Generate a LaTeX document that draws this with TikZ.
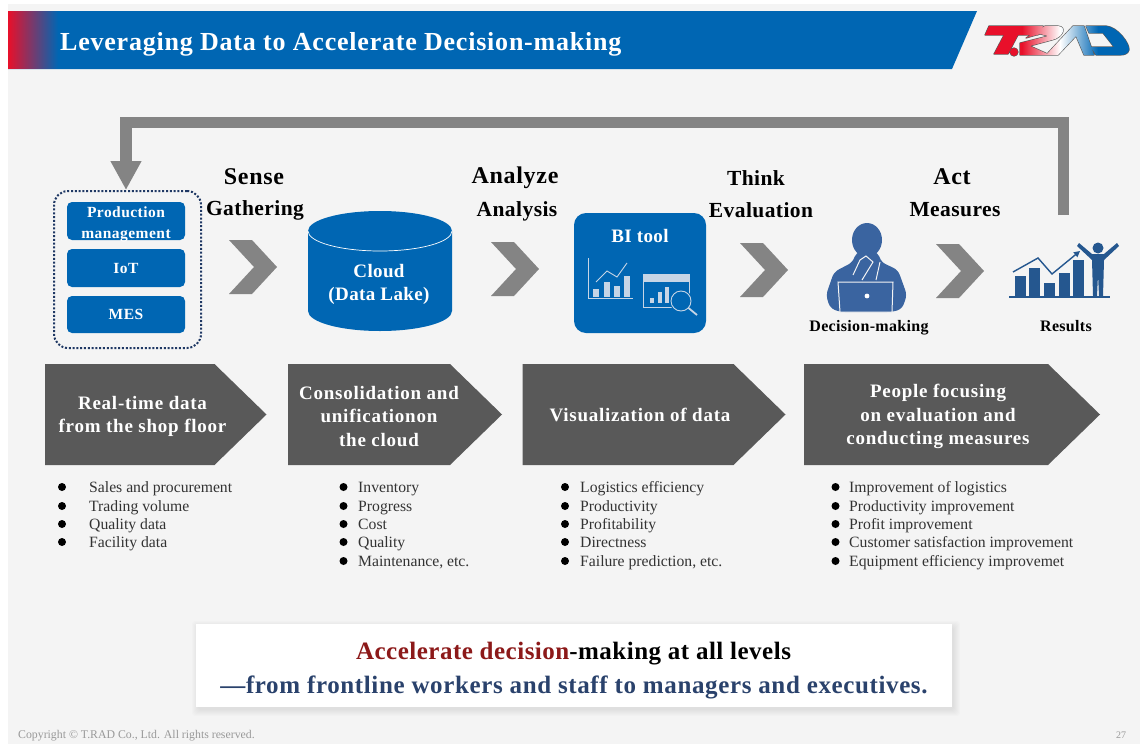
\documentclass[tikz,border=0pt]{standalone}
\usepackage{fontspec}
\setmainfont{Liberation Serif}
\usepackage{tikz}
\usetikzlibrary{arrows.meta}
\definecolor{tradblue}{HTML}{0066B3}
\definecolor{tradred}{HTML}{E8102A}
\definecolor{tradgrey}{HTML}{848484}
\definecolor{banner}{HTML}{595959}
\definecolor{person}{HTML}{3A64A0}
\definecolor{chart}{HTML}{25578F}
\definecolor{icon}{HTML}{C6D5E6}
\definecolor{navy}{HTML}{1F3864}
\definecolor{slide}{HTML}{F4F4F4}
\newcommand{\chevronshape}[2]{(#1,#2) -- ++(23,0) -- ++(25,27) -- ++(-25,27) -- ++(-23,0) -- ++(25,-27) -- cycle}
\newcommand{\spaced}[1]{\addfontfeature{LetterSpace=#1}}
\newcommand{\logopath}{(989,26) -- (1043,26) -- (1038,35) -- (1018,35) -- (1008,54) -- (994,54) -- (1004,35) -- (985,35) -- cycle
    (1014,52) circle[radius=4pt]
    (1026,38) -- (1045,26) -- (1058,26) .. controls (1068,27) and (1062,38) .. (1052,40) -- (1030,46) -- (1050,55) -- (1020,55) -- (1020,43) -- (1048,36) -- (1040,34) -- cycle
    (1046,55) -- (1073,26) -- (1084,26) -- (1094,55) -- (1084,55) -- (1076,36) -- (1058,55) -- cycle
    (1086,26) -- (1106,26) .. controls (1118,27) and (1130,44) .. (1129,50) .. controls (1128,54) and (1124,55) .. (1120,55) -- (1096,55) -- (1091,47) -- (1114,47) -- (1103,33) -- (1089,33) -- cycle}

\begin{document}
\begin{tikzpicture}[x=1pt, y=-1pt,
        bluebox/.style={fill=tradblue, rounded corners=5pt, text=white, align=center, inner sep=0pt,
            minimum width=118pt, font=\fontsize{15.5}{21}\selectfont\bfseries\spaced{3}},
        flow/.style={font=\fontsize{24}{26}\selectfont\bfseries\spaced{3}},
        flowsub/.style={font=\fontsize{21.5}{24}\selectfont\bfseries\spaced{2}},
        caption/.style={font=\fontsize{16}{18}\selectfont\bfseries\spaced{2}},
        bannertext/.style={text=white, align=center, font=\fontsize{19}{23.3}\selectfont\bfseries\spaced{4}},
        listtext/.style={anchor=base west, inner sep=0pt, text=black!80, font=\fontsize{15.7}{16}\selectfont},
        iconline/.style={draw=icon, line width=0.9pt},
        feedback/.style={draw=tradgrey, line width=11.4pt, -{Triangle[length=29pt,width=29pt]}}
    ]
    \useasboundingbox (0,0) rectangle (1140,744);
    \fill[white] (0,0) rectangle (1140,744);
    \fill[slide] (8,4) rectangle (1140,744);

    % title bar
    \fill[tradblue] (8,11) -- (977,11) -- (952,69) -- (8,69) -- cycle;
    \shade[left color=tradred, right color=tradblue] (8,11.4) rectangle (58,68.6);
    \node[anchor=west, inner sep=0pt, text=white, font=\fontsize{26}{28}\selectfont\bfseries\spaced{3}] (title) at (60,44)
        {Leveraging Data to Accelerate Decision-making};

    % logo
    \draw[black!65, line width=1.2pt, line join=round] \logopath;
    \begin{scope}
        \clip \logopath;
        \fill[tradred] (985,20) rectangle (1022,60);
        \shade[left color=tradred, right color=white] (1022,20) rectangle (1060,60);
        \shade[left color=white, right color=tradblue] (1060,20) rectangle (1098,60);
        \fill[tradblue] (1098,20) rectangle (1135,60);
    \end{scope}

    % data sources
    \node[draw=navy, line width=2pt, dash pattern=on 2pt off 1.8pt, rounded corners=14pt,
        minimum width=147pt, minimum height=157pt] (stack) at (127.5,269.5) {};
    \fill[tradblue, rounded corners=5pt] (67,202) rectangle (185,240);
    \node[text=white, align=center, inner sep=0pt, font=\fontsize{15.5}{21}\selectfont\bfseries\spaced{3}] (production) at (126,224) {Production\\management};
    \node[bluebox, minimum height=38pt] (iot) at (126,268) {IoT};
    \node[bluebox, minimum height=37pt] (mes) at (126,314.5) {MES};

    % feedback
    \coordinate (fbstart) at (1063.5,215);
    \coordinate (fbtop) at (600,122.5);
    \coordinate (fbend) at ([xshift=-1.5pt]stack.north);
    \draw[feedback] (fbstart) |- (fbtop) -| (fbend);

    % steps
    \node[flow] (sense) at (254,177) {Sense};
    \node[flowsub] (gathering) at (255,210) {Gathering};
    \node[flow] (analyze) at (515,178) {Analyze};
    \node[flowsub] (analysis) at (517,211) {Analysis};
    \node[flowsub] (think) at (756,178) {Think};
    \node[flowsub] (evaluation) at (761,210) {Evaluation};
    \node[flow] (act) at (952,177) {Act};
    \node[flowsub] (measures) at (955,210) {Measures};
    \foreach \x/\y in {229/240, 491/242, 740/243, 936/244}
        \fill[tradgrey] \chevronshape{\x}{\y};

    % cloud
    \fill[tradblue] (308,231) -- (308,311) arc[start angle=180, end angle=360, x radius=72pt, y radius=20pt]
        -- (452,231) arc[start angle=0, end angle=180, x radius=72pt, y radius=20pt] -- cycle;
    \draw[white, line width=0.7pt] (308,231) arc[start angle=180, end angle=360, x radius=72pt, y radius=20pt];
    \node[text=white, align=center, inner sep=0pt, font=\fontsize{19}{23}\selectfont\bfseries\spaced{2}] (cloud) at (379,284) {Cloud\\(Data Lake)};

    % BI tool
    \fill[tradblue, rounded corners=12pt] (574,213) rectangle (706,333);
    \node[text=white, font=\fontsize{19}{20}\selectfont\bfseries\spaced{2}] (bi) at (640,236) {BI tool};
    \draw[iconline] (588,258) -- (588,298) -- (633,298);
    \draw[iconline] (596,282) -- (607,271) -- (617,277) -- (627,263);
    \foreach \l/\t in {593/289, 604/282, 614/286, 624/276}
        \fill[icon] (\l,\t) rectangle (\l+6,297);
    \draw[iconline] (643,274) rectangle (689,307) (643,281) -- (689,281);
    \fill[icon] (643,274) rectangle (689,281);
    \foreach \l/\t in {650/298, 658/292, 665/287}
        \fill[icon] (\l,\t) rectangle (\l+4,303);
    \draw[tradblue, fill=tradblue, line width=1pt] (681,301) circle[radius=11pt];
    \draw[iconline] (681,301) circle[radius=10pt];
    \draw[icon, line width=1.8pt] (688.5,308) -- (697,315);

    % person
    \fill[person] (867,240) ellipse[x radius=15pt, y radius=17pt];
    \fill[person, rounded corners=5pt] (853,262) -- (856,252) -- (878,252) -- (881,262) -- (898,270)
        -- (907,295) -- (902,309) -- (892,312) -- (840,312) -- (830,308) -- (826,295) -- (834,272) -- cycle;
    \draw[slide, line width=1pt, fill=person] (838,282) -- (893,282) -- (892,312) -- (840,312) -- cycle;
    \draw[slide, line width=1pt] (853,275) -- (860,260) -- (866,256) -- (873,262) -- (862,280);
    \draw[slide, line width=1pt] (880,262) -- (876,280);
    \fill[white] (867,296) circle[radius=2.4pt];
    \node[caption] (decision) at (869,328) {Decision-making};

    % results
    \foreach \l/\t in {1015/276, 1029/268, 1044/283, 1059/273, 1073/260}
        \fill[chart] (\l,\t) rectangle (\l+11,296);
    \fill[chart] (1009,296) rectangle (1110,298);
    \draw[chart, line width=1.4pt, -{Triangle[length=6pt,width=6pt]}] (1013,272) -- (1038,258) -- (1052,274) -- (1080,251);
    \fill[chart] (1098,248) circle[radius=5.5pt];
    \fill[chart] (1079,243) -- (1092,254) -- (1104,254) -- (1117,243) -- (1119,246) -- (1104,260) -- (1103,296)
        -- (1099,296) -- (1098,275) -- (1097,296) -- (1093,296) -- (1092,260) -- (1077,246) -- cycle;
    \node[caption] (results) at (1066,326) {Results};

    % banners
    \foreach \l/\s/\t in {45/214.5/266.5, 288/450/502, 522.5/733.5/785.5, 804/1048/1100}
        \fill[banner] (\l,364) -- (\s,364) -- (\t,414.5) -- (\s,465) -- (\l,465) -- cycle;
    \node[bannertext] (realtime) at (142.5,416.5) {Real-time data\\from the shop floor};
    \node[bannertext] (consolidation) at (379,416.5) {Consolidation and\\unificationon\\the cloud};
    \node[bannertext] (visualization) at (640,415) {Visualization of data};
    \node[bannertext] (people) at (938,416.5) {People focusing\\on evaluation and\\conducting measures};

    % lists
    \foreach \x/\y in {62/487, 62/506, 62/524, 62/542,
            343.5/487, 343.5/506, 343.5/524, 343.5/542, 343.5/561,
            565/487, 565/506, 565/524, 565/542, 565/561,
            835.5/487, 835.5/506, 835.5/524, 835.5/542, 835.5/561}
        \fill (\x,\y) circle[radius=4pt];
    \node[listtext] (sales) at (89,492) {Sales and procurement};
    \node[listtext] (trading) at (89,511) {Trading volume};
    \node[listtext] (qualitydata) at (89,529) {Quality data};
    \node[listtext] (facility) at (89,547) {Facility data};
    \node[listtext] (inventory) at (358,492) {Inventory};
    \node[listtext] (progress) at (358,511) {Progress};
    \node[listtext] (cost) at (358,529) {Cost};
    \node[listtext] (quality) at (358,547) {Quality};
    \node[listtext] (maintenance) at (358,566) {Maintenance, etc.};
    \node[listtext] (logistics) at (580,492) {Logistics efficiency};
    \node[listtext] (productivity) at (580,511) {Productivity};
    \node[listtext] (profitability) at (580,529) {Profitability};
    \node[listtext] (directness) at (580,547) {Directness};
    \node[listtext] (failure) at (580,566) {Failure prediction, etc.};
    \node[listtext] (implogistics) at (849,492) {Improvement of logistics};
    \node[listtext] (impproductivity) at (849,511) {Productivity improvement};
    \node[listtext] (impprofit) at (849,529) {Profit improvement};
    \node[listtext] (impcustomer) at (849,547) {Customer satisfaction improvement};
    \node[listtext] (impequipment) at (849,566) {Equipment efficiency improvemet};

    % conclusion
    \foreach \d in {1,...,7}
        \fill[black, opacity=0.012, rounded corners=3pt] (196-\d+3,624-\d+4) rectangle (952+\d+1,707+\d+2);
    \node[fill=white, minimum width=756pt, minimum height=83pt, inner sep=0pt] (panel) at (574,665.5) {};
    \node[font=\fontsize{25}{28}\selectfont\bfseries\spaced{2}] (accelerate) at (573.5,653.5)
        {\textcolor{red!50!black!90}{Accelerate decision}-making at all levels};
    \node[text=navy!95, font=\fontsize{25}{28}\selectfont\bfseries\spaced{2.5}] (frontline) at (574,687)
        {—from frontline workers and staff to managers and executives.};

    % footer
    \node[anchor=west, inner sep=0pt, text=black!40, font=\fontsize{11.8}{12}\selectfont] (copyright) at (18,736)
        {Copyright © T.RAD Co., Ltd. All rights reserved.};
    \node[text=black!40, inner sep=0pt, font=\fontsize{10}{12}\selectfont] (page) at (1121,735) {27};
\end{tikzpicture}
\end{document}
